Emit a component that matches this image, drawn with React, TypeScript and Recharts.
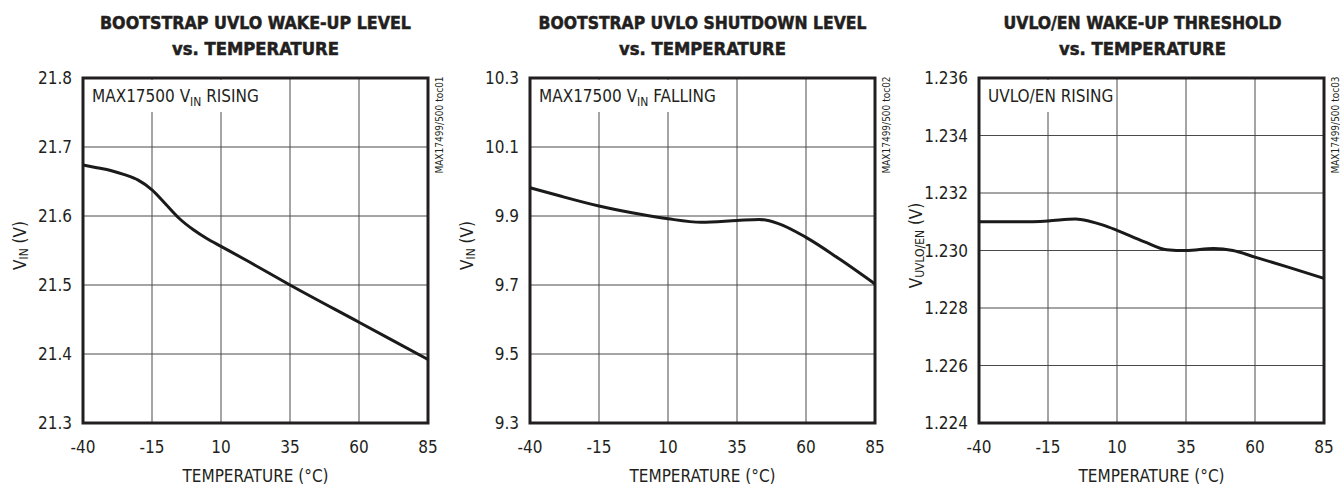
import React from 'react';
import { LineChart, Line, XAxis, YAxis, CartesianGrid, ReferenceArea } from 'recharts';

// temperature axis shared by all three plots
const tempTicks = [-40, -15, 10, 35, 60, 85];

// bootstrap UVLO wake-up level
const wakeTemps = [-40, -35, -30, -25, -20, -15, -10, -5, 0, 5, 10, 20, 35, 60, 85];
const wakeVin = [21.674, 21.67, 21.666, 21.66, 21.652, 21.638, 21.617, 21.596, 21.58, 21.567, 21.556, 21.534, 21.5, 21.446, 21.392];
const wakeTicks = [21.3, 21.4, 21.5, 21.6, 21.7, 21.8];

// bootstrap UVLO shutdown level
const shutTemps = [-40, -30, -15, 0, 10, 22, 35, 43, 50, 60, 72, 85];
const shutVin = [9.982, 9.96, 9.929, 9.905, 9.892, 9.882, 9.887, 9.89, 9.878, 9.838, 9.776, 9.703];
const shutTicks = [9.3, 9.5, 9.7, 9.9, 10.1, 10.3];

// UVLO/EN wake-up threshold
const enTemps = [-40, -25, -15, -5, 0, 5, 10, 20, 28, 35, 45, 52, 60, 72, 85];
const enVolts = [1.231, 1.231, 1.23103, 1.2311, 1.23102, 1.23088, 1.2307, 1.2303, 1.23003, 1.23, 1.23007, 1.23, 1.22977, 1.22942, 1.22903];
const enTicks = [1.224, 1.226, 1.228, 1.23, 1.232, 1.234, 1.236];

const FONT = '"Liberation Sans Narrow", "DejaVu Sans Condensed", "Arial Narrow", sans-serif';
const INK = '#231f20';

const rows = (xs: number[], ys: number[]) => xs.map((t, i) => ({ t, v: ys[i] }));

interface PanelProps {
  left: number;
  data: { t: number; v: number }[];
  yTicks: number[];
  digits: number;
  title1: string;
  title2: string;
  titleW: number[];
  titleShift: number;
  yMain: string;
  ySub: string;
  noteMain: string;
  noteSub?: string;
  noteRest?: string;
  noteW: number;
  code: string;
}

const Panel = (p: PanelProps) => {
  const decor = (props: any) => {
    const vb = props.viewBox;
    const cx = vb.x + vb.width / 2;
    const cy = vb.y + vb.height / 2;
    const lx = vb.x - 63;
    const ly = cy - 5;
    return (
      <g fontFamily={FONT}>
        <text x={cx + p.titleShift} y={vb.y - 49} textAnchor="middle" fontWeight="bold" fontSize={18}
          fill={INK} stroke={INK} strokeWidth={0.5} textLength={p.titleW[0]} lengthAdjust="spacingAndGlyphs">{p.title1}</text>
        <text x={cx + p.titleShift} y={vb.y - 23} textAnchor="middle" fontWeight="bold" fontSize={18}
          fill={INK} stroke={INK} strokeWidth={0.5} textLength={p.titleW[1]} lengthAdjust="spacingAndGlyphs">{p.title2}</text>
        <rect x={vb.x + 2} y={vb.y + 2} width={p.noteW} height={32} fill="#fff" />
        <text x={vb.x + 9} y={vb.y + 24} fontSize={17} fill={INK}>
          <tspan>{p.noteMain}</tspan>
          {p.noteSub ? <tspan fontSize={12} dy={4}>{p.noteSub}</tspan> : null}
          {p.noteRest ? <tspan dy={-4}>{p.noteRest}</tspan> : null}
        </text>
        <text x={lx} y={ly} transform={`rotate(-90 ${lx} ${ly})`} textAnchor="middle" dominantBaseline="central"
          fontSize={17} fill={INK}>
          <tspan>{p.yMain}</tspan>
          <tspan fontSize={12} dy={4}>{p.ySub}</tspan>
          <tspan dy={-4}> (V)</tspan>
        </text>
        <text x={cx} y={vb.y + vb.height + 59} textAnchor="middle" fontSize={17} fill={INK}>TEMPERATURE (°C)</text>
        <text x={vb.x + vb.width + 15} y={vb.y + 47} transform={`rotate(-90 ${vb.x + vb.width + 15} ${vb.y + 47})`}
          textAnchor="middle" fontSize={10} fill={INK}>{p.code}</text>
      </g>
    );
  };

  const yMin = p.yTicks[0];
  const yMax = p.yTicks[p.yTicks.length - 1];

  return (
    <div style={{ position: 'absolute', left: p.left, top: 0 }}>
      <LineChart width={447} height={485} data={p.data} margin={{ top: 78, right: 19, left: 23, bottom: 2 }}>
        <CartesianGrid stroke="#4a4a4a" strokeWidth={1} />
        <XAxis
          dataKey="t"
          type="number"
          domain={[-40, 85]}
          ticks={tempTicks}
          interval={0}
          height={60}
          axisLine={false}
          tickLine={false}
          tickSize={0}
          tickMargin={18}
          tick={{ fontFamily: FONT, fontSize: 17, fill: INK }}
        />
        <YAxis
          dataKey="v"
          type="number"
          domain={[yMin, yMax]}
          ticks={p.yTicks}
          interval={0}
          width={60}
          axisLine={false}
          tickLine={false}
          tickSize={0}
          tickMargin={11}
          tickFormatter={(v: number) => v.toFixed(p.digits)}
          tick={{ fontFamily: FONT, fontSize: 17, fill: INK }}
        />
        <ReferenceArea x1={-40} x2={85} y1={yMin} y2={yMax} fill="none" fillOpacity={0}
          stroke={INK} strokeWidth={3} label={decor} />
        <Line type="monotone" dataKey="v" stroke="#1a1a1a" strokeWidth={3} dot={false} isAnimationActive={false} />
      </LineChart>
    </div>
  );
};

export default function App() {
  return (
    <div style={{ position: 'absolute', left: 0, top: 0, width: 1340, height: 485, background: '#fff' }}>
      <Panel
        left={0}
        data={rows(wakeTemps, wakeVin)}
        yTicks={wakeTicks}
        digits={1}
        title1="BOOTSTRAP UVLO WAKE-UP LEVEL"
        title2="vs. TEMPERATURE"
        titleW={[311, 167]}
        titleShift={0}
        yMain="V"
        ySub="IN"
        noteMain="MAX17500 V"
        noteSub="IN"
        noteRest=" RISING"
        noteW={168}
        code="MAX17499/500 toc01"
      />
      <Panel
        left={447}
        data={rows(shutTemps, shutVin)}
        yTicks={shutTicks}
        digits={1}
        title1="BOOTSTRAP UVLO SHUTDOWN LEVEL"
        title2="vs. TEMPERATURE"
        titleW={[328, 167]}
        titleShift={0}
        yMain="V"
        ySub="IN"
        noteMain="MAX17500 V"
        noteSub="IN"
        noteRest=" FALLING"
        noteW={178}
        code="MAX17499/500 toc02"
      />
      <Panel
        left={896}
        data={rows(enTemps, enVolts)}
        yTicks={enTicks}
        digits={3}
        title1="UVLO/EN WAKE-UP THRESHOLD"
        title2="vs. TEMPERATURE"
        titleW={[278, 167]}
        titleShift={-9}
        yMain="V"
        ySub="UVLO/EN"
        noteMain="UVLO/EN RISING"
        noteW={128}
        code="MAX17499/500 toc03"
      />
    </div>
  );
}
